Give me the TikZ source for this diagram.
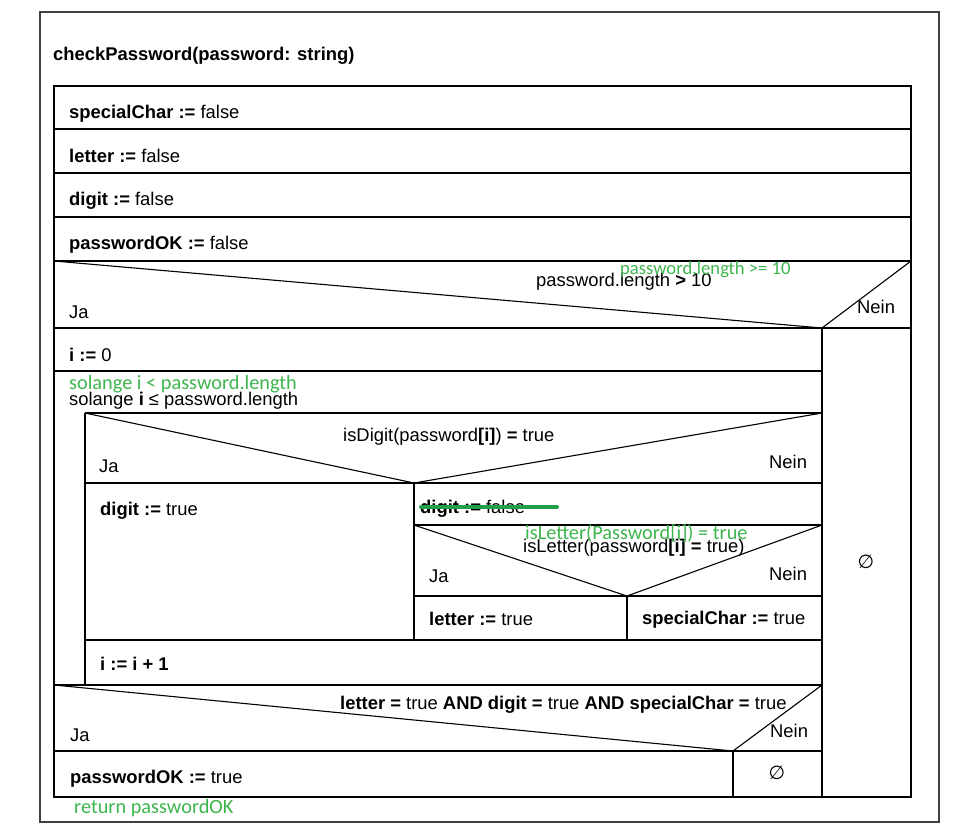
\documentclass[tikz,border=0pt]{standalone}
\usepackage{fontspec}
\setmainfont{Liberation Sans}
\newfontfamily\grnfont{Carlito}
\newfontfamily\symfont{DejaVu Sans}
\definecolor{anno}{RGB}{62,182,78}
\definecolor{strikegreen}{RGB}{34,160,70}
\begin{document}
\begin{tikzpicture}[x=1pt,y=-1pt,
  txt/.style={anchor=base west,inner sep=0pt,font=\fontsize{18.4}{20}\selectfont},
  ann/.style={anchor=base west,inner sep=0pt,text=anno,font=\grnfont\fontsize{20.3}{22}\selectfont},
  sym/.style={inner sep=0pt,font=\symfont\fontsize{19}{21}\selectfont},
  nsline/.style={line width=1.1pt,black},
  frameline/.style={line width=1.4pt,black!75}
]
\useasboundingbox (0,0) rectangle (954,831);
\fill[white] (0,0) rectangle (954,831);
\draw[frameline] (40,12) rectangle (939,822);

% corners
\coordinate (BL) at (54,86);
\coordinate (BR) at (911,797);
\draw[nsline] (BL) rectangle (BR);
% initial rows
\draw[nsline] (54,129) -- (911,129);
\draw[nsline] (54,173) -- (911,173);
\draw[nsline] (54,217) -- (911,217);
\draw[nsline] (54,261) -- (911,261);
% first condition
\coordinate (v1) at (822,328);
\draw[nsline] (54,261) -- (v1) -- (911,261);
\draw[nsline] (54,328) -- (911,328);
\draw[nsline] (v1) -- (822,797);
% i := 0
\draw[nsline] (54,371) -- (822,371);
% loop
\draw[nsline] (85,413) -- (822,413);
\draw[nsline] (85,413) -- (85,685);
% isDigit
\coordinate (v2) at (414,483);
\draw[nsline] (85,413) -- (v2) -- (822,413);
\draw[nsline] (85,483) -- (822,483);
\draw[nsline] (v2) -- (414,640);
\draw[nsline] (414,525) -- (822,525);
% isLetter
\coordinate (v3) at (627,596);
\draw[nsline] (414,525) -- (v3) -- (822,525);
\draw[nsline] (414,596) -- (822,596);
\draw[nsline] (v3) -- (627,640);
\draw[nsline] (85,640) -- (822,640);
% final condition
\coordinate (v4) at (733,751);
\draw[nsline] (54,685) -- (822,685);
\draw[nsline] (54,685) -- (v4) -- (822,685);
\draw[nsline] (54,751) -- (822,751);
\draw[nsline] (v4) -- (733,797);

% texts
\node[txt] (title) at (53,60) {\bfseries checkPassword(password: string)};
\node[txt] (t1) at (69,118) {\textbf{specialChar :=} false};
\node[txt] (t2) at (69,162) {\textbf{letter :=} false};
\node[txt] (t3) at (69,205) {\textbf{digit :=} false};
\node[txt] (t4) at (69,249) {\textbf{passwordOK :=} false};
\node[txt] (c1) at (536,286) {password.length \textbf{>} 10};
\node[ann,font=\grnfont\fontsize{18.6}{20}\selectfont] (g1) at (620,274) {password.length >= 10};
\node[txt] (ja1) at (69,318) {Ja};
\node[txt] (nein1) at (857,313) {Nein};
\node[txt] (t5) at (69,361) {\textbf{i :=} 0};
\node[txt] (w1) at (69,405) {solange \textbf{i} ≤ password.length};
\node[ann] (g2) at (69,389) {solange i < password.length};
\node[txt] (c2) at (343,441) {isDigit(password\textbf{[i]}) \textbf{=} true};
\node[txt] (ja2) at (99,472) {Ja};
\node[txt] (nein2) at (769,468) {Nein};
\node[txt] (t6) at (100,515) {\textbf{digit :=} true};
\node[txt] (t7) at (420,513) {\textbf{digit :=} false};
\draw[strikegreen,line width=4pt,line cap=round] (421,507) -- (557,507);
\node[txt] (c3) at (523,552) {isLetter(password\textbf{[i]} \textbf{=} true)};
\node[ann] (g3) at (525,539) {isLetter(Password[i]) = true};
\node[txt] (ja3) at (429,582) {Ja};
\node[txt] (nein3) at (769,580) {Nein};
\node[txt] (t8) at (429,625) {\textbf{letter :=} true};
\node[txt] (t9) at (642,624) {\textbf{specialChar :=} true};
\node[sym] (e1) at (866,562) {∅};
\node[txt] (t10) at (100,670) {\textbf{i := i + 1}};
\node[txt] (c4) at (340,709) {\textbf{letter =} true \textbf{AND digit =} true \textbf{AND specialChar =} true};
\node[txt] (ja4) at (70,741) {Ja};
\node[txt] (nein4) at (770,737) {Nein};
\node[txt] (t11) at (70,783) {\textbf{passwordOK :=} true};
\node[sym] (e2) at (777,773) {∅};
\node[ann] (g4) at (74,813) {return passwordOK};
\end{tikzpicture}
\end{document}
